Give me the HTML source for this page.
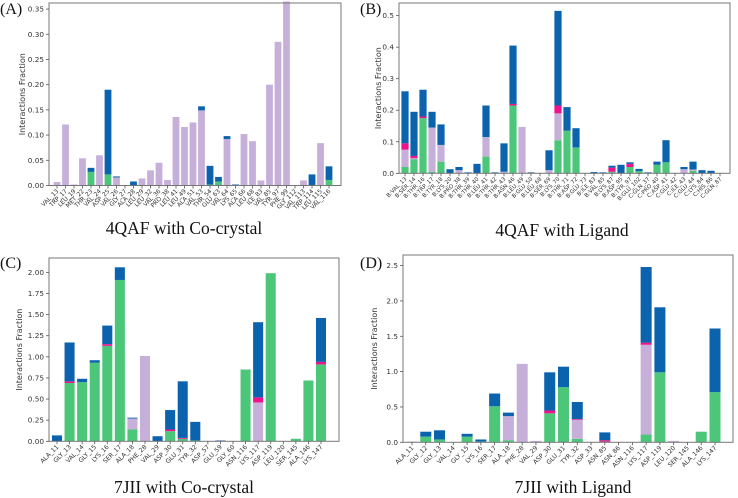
<!DOCTYPE html>
<html><head><meta charset="utf-8">
<style>
html,body{margin:0;padding:0;background:#fff;}
svg{display:block;}
.tk{font-family:"DejaVu Sans","Liberation Sans",sans-serif;fill:#333;}
.ttl{font-family:"Liberation Serif",serif;fill:#111;}
</style></head>
<body>
<svg id="fig" width="738" height="498" viewBox="0 0 738 498" xmlns="http://www.w3.org/2000/svg"></svg>
<script>
// ---- Panel A data: 4QAF with Co-crystal ----
const catsA = ["VAL_13","TRP_17","LEU_19","MET_22","THR_23","VAL_24","ASP_25","VAL_26","GLY_27","ALA_28","LEU_29","LEU_32","VAL_36","PRO_38","LEU_41","LEU_49","ALA_51","VAL_53","THR_54","GLU_63","VAL_64","LYS_65","ALA_66","LEU_68","ILE_83","VAL_85","TYR_97","PHE_99","GLY_112","VAL_113","TRP_114","LEU_115","VAL_116"];
const hbondA = [0,0,0,0,.027,0,.022,0,0,0,0,0,0,0,0,0,0,0,.002,.008,0,0,0,0,0,0,0,0,0,0,0,0,.011];
const hydroA = [.007,.121,.002,.054,0,.06,0,.016,0,0,.014,.03,.045,.011,.136,.116,.125,.149,0,0,.092,0,.102,.088,.01,.2,.285,.365,0,.01,0,.084,0];
const ionicA = [0,0,0,0,0,0,0,0,0,0,0,0,0,0,0,0,0,0,0,0,0,0,0,0,0,0,0,0,0,0,0,0,0];
const waterA = [0,0,0,0,.008,0,.168,.002,.001,.008,0,0,0,0,0,0,0,.008,.037,.009,.006,.002,0,0,0,0,0,0,.001,0,.022,0,.027];
const ticksA = ["0.00","0.05","0.10","0.15","0.20","0.25","0.30","0.35"];

// ---- Panel B data: 4QAF with Ligand ----
const catsB = ["B:VAL_13","B:SER_14","B:THR_16","B:TRP_17","B:TYR_18","B:LYS_20","B:PRO_38","B:THR_39","B:THR_40","B:LEU_41","B:THR_42","B:THR_43","B:ASN_46","B:LEU_49","B:GLU_50","B:LEU_68","B:SER_69","B:LYS_70","B:THR_71","B:ASP_72","B:GLU_73","B:ILE_83","B:VAL_85","B:LYS_87","B:ASP_95","B:TYR_97","B:GLU_102","C:GLN_37","C:PRO_40","C:ASP_41","C:GLU_42","C:ILE_43","C:GLU_44","C:LYS_84","C:HIS_86","C:GLN_87"];
const hbondB = [.02,.045,.175,.005,.037,0,0,0,0,.053,0,0,.215,0,0,0,0,.105,.135,.082,0,0,0,.005,0,.02,.007,0,.027,.035,0,0,.008,0,0,0];
const hydroB = [.055,.003,0,.14,.053,0,.01,0,0,.062,0,.005,0,.147,0,0,.01,.085,0,0,0,0,0,0,0,0,0,0,0,0,0,.013,.004,0,0,0];
const ionicB = [.02,.007,.005,0,0,0,0,0,0,0,0,0,.005,0,0,0,0,.025,0,0,0,0,0,.013,0,.01,0,0,0,0,0,0,0,0,0,0];
const waterB = [.165,.14,.085,.05,.065,.013,.01,.003,.03,.1,.003,.09,.185,0,.003,.001,.063,.3,.075,.061,.001,.004,.003,.006,.027,.005,.007,.003,.01,.07,.001,.007,.025,.01,.008,.001];
const ticksB = ["0.0","0.1","0.2","0.3","0.4","0.5"];

// ---- Panel C data: 7JII with Co-crystal ----
const catsC = ["ALA_11","GLY_13","VAL_14","GLY_15","LYS_16","SER_17","ALA_18","PHE_28","VAL_29","ASP_30","GLU_31","TYR_32","ASP_57","GLU_59","GLY_60","ASN_116","LYS_117","ASP_119","LEU_120","SER_145","ALA_146","LYS_147"];
const hbondC = [0,.69,.70,.93,1.13,1.91,.14,0,0,.12,.03,.01,0,0,0,.85,0,1.99,0,.03,.72,.91];
const hydroC = [0,0,0,0,0,0,.13,1.01,0,0,0,0,0,0,0,0,.46,0,0,0,0,0];
const ionicC = [0,.02,0,0,.02,0,0,0,0,.02,.01,0,0,0,0,0,.06,0,0,0,0,.03];
const waterC = [.07,.46,.04,.03,.22,.15,.01,0,.06,.23,.67,.22,0,.01,0,0,.89,0,0,0,0,.52];
const ticksC = ["0.00","0.25","0.50","0.75","1.00","1.25","1.50","1.75","2.00"];

// ---- Panel D data: 7JII with Ligand ----
const catsD = ["ALA_11","GLY_12","GLY_13","VAL_14","GLY_15","LYS_16","SER_17","ALA_18","PHE_28","VAL_29","ASP_30","GLU_31","TYR_32","ASP_33","ASN_85","ASN_86","ASN_116","LYS_117","ASP_119","LEU_120","SER_145","ALA_146","LYS_147"];
const hbondD = [0,.08,.04,0,.08,.01,.51,.03,0,0,.41,.78,.05,0,.01,0,0,.11,.99,0,0,.15,.71];
const hydroD = [.01,0,0,0,0,0,0,.34,1.11,.02,0,0,.27,.005,0,.005,0,1.27,0,.02,0,0,0];
const ionicD = [0,0,0,0,0,0,0,0,0,0,.04,0,.01,0,.02,0,0,.03,0,0,0,0,0];
const waterD = [0,.07,.13,0,.04,.03,.18,.05,0,0,.54,.29,.24,0,.11,0,0,1.07,.92,0,0,0,.9];
const ticksD = ["0.0","0.5","1.0","1.5","2.0","2.5"];

const NS = "http://www.w3.org/2000/svg";
const svg = document.getElementById("fig");
const colors = ["#4cc77a","#c6b0da","#ef128a","#0c63ad"];
const segNames = ["hbond","hydrophobic","ionic","water-bridge"];

function mk(tag, attrs, parent){
  const e = document.createElementNS(NS, tag);
  for (const k in attrs) e.setAttribute(k, attrs[k]);
  (parent||svg).appendChild(e);
  return e;
}

function panel(id, cfg, cats, series, ticks, title, letter){
  const g = mk("g", {});
  
  
  const L=cfg.l, R=cfg.r, T=cfg.t, B=cfg.b;
  const y = v => B - v/cfg.ymax*(B-T);
  const n = cats.length;
  const step = (R - L - cfg.m1 - cfg.m2)/(n-1);
  const x = i => L + cfg.m1 + i*step;
  const bw = step*0.8;
  for (let i=0;i<n;i++){
    let acc = 0;
    for (let s=0;s<4;s++){
      const v = series[s][i];
      if (v<=0) continue;
      const r = mk("rect", {x:(x(i)-bw/2).toFixed(2), y:y(acc+v).toFixed(2), width:bw.toFixed(2), height:(y(acc)-y(acc+v)).toFixed(2), fill:colors[s]}, g);
      
      
      acc += v;
    }
  }
  const fr = mk("rect", {x:L, y:T, width:R-L, height:B-T, fill:"none", stroke:"#777", "stroke-width":1}, g);
  
  
  for (const t of ticks){
    const v = parseFloat(t), yy = y(v);
    mk("line", {x1:L-3, x2:L, y1:yy, y2:yy, stroke:"#555", "stroke-width":0.8}, g);
    const tx = mk("text", {x:L-5, y:yy+2.5, "text-anchor":"end", "font-size":7.3, class:"tk"}, g);
    tx.textContent = t;
    
    
  }
  for (let i=0;i<n;i++){
    const xx = x(i);
    mk("line", {x1:xx, x2:xx, y1:B, y2:B+3, stroke:"#555", "stroke-width":0.8}, g);
    const tx = mk("text", {x:xx+2, y:B+6, "text-anchor":"end", "font-size":cfg.xf, class:"tk", transform:`rotate(-45 ${xx+2} ${B+6})`}, g);
    tx.textContent = cats[i];
    
    
  }
  const yt = mk("text", {x:cfg.yx, y:(T+B)/2, "text-anchor":"middle", "font-size":8, class:"tk", transform:`rotate(-90 ${cfg.yx} ${(T+B)/2})`}, g);
  yt.textContent = "Interactions Fraction";
  
  
  const ct = mk("text", {x:cfg.cx, y:cfg.cy, "text-anchor":"middle", "font-size":17.5, class:"ttl"}, g);
  ct.textContent = title;
  
  
  const lt = mk("text", {x:cfg.lx, y:cfg.ly, "font-size":16, class:"ttl"}, g);
  lt.textContent = letter;
  
  
}

panel("a", {l:49,r:341,t:3,b:185.5,ymax:0.362,m1:8,m2:12,xf:6,yx:25,cx:184,cy:234,lx:0,ly:14},
  catsA, [hbondA,hydroA,ionicA,waterA], ticksA, "4QAF with Co-crystal", "(A)");
panel("b", {l:399,r:730,t:3,b:173.3,ymax:0.54,m1:6,m2:10,xf:5.6,yx:381,cx:562,cy:236,lx:360,ly:14},
  catsB, [hbondB,hydroB,ionicB,waterB], ticksB, "4QAF with Ligand", "(B)");
panel("c", {l:49,r:339,t:258,b:441.3,ymax:2.17,m1:8,m2:18,xf:6.2,yx:22,cx:184,cy:493,lx:0,ly:268},
  catsC, [hbondC,hydroC,ionicC,waterC], ticksC, "7JII with Co-crystal", "(C)");
panel("d", {l:403,r:733,t:255,b:442.3,ymax:2.65,m1:9,m2:18,xf:6.2,yx:377,cx:573,cy:493,lx:360,ly:268},
  catsD, [hbondD,hydroD,ionicD,waterD], ticksD, "7JII with Ligand", "(D)");
</script>
</body></html>
